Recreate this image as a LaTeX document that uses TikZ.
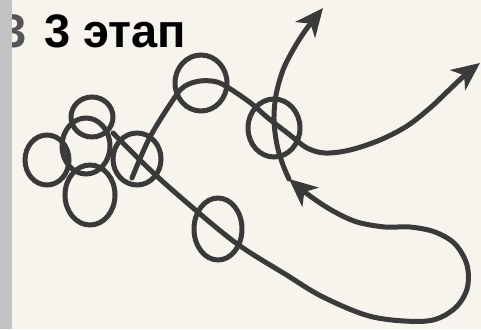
\documentclass[tikz,border=0pt]{standalone}
\usepackage{fontspec}
\setmainfont{Liberation Sans}
\usetikzlibrary{arrows.meta,shapes.geometric}
\definecolor{paper}{HTML}{F6F4EC}
\definecolor{strip}{HTML}{C3C3C3}
\definecolor{ink}{HTML}{3A3A3A}
\definecolor{ghostink}{HTML}{555555}
\begin{document}
\begin{tikzpicture}[x=1pt,y=-1pt,
  ring/.style={ellipse, draw=ink, line width=5pt, inner sep=0pt, outer sep=0pt},
  curve/.style={draw=ink, line width=5pt, line cap=round, line join=round},
  tipend/.style={-{Stealth[length=28pt,width=25pt,inset=8pt]}},
  titlefont/.style={font=\bfseries\fontsize{47}{47}\selectfont}]
\fill[paper] (0,0) rectangle (481,329);
\useasboundingbox (0,0) rectangle (481,329);
% ghost glyph partly under the strip
\node[anchor=base west, inner sep=0pt, text=ghostink, titlefont] (ghost) at (0,48) {3};
\fill[strip] (0,0) rectangle (12,329);
\node[anchor=base west, inner sep=0pt, titlefont] (title) at (44,48) {3 этап};
% rings
\node[ring, minimum width=42pt, minimum height=40pt] (k1) at (92,117) {};
\node[ring, minimum width=44pt, minimum height=50pt] (k2) at (47,160) {};
\node[ring, minimum width=48pt, minimum height=56pt] (k3) at (86,146) {};
\node[ring, minimum width=48pt, minimum height=52pt] (k4) at (137,159) {};
\node[ring, minimum width=50pt, minimum height=60pt] (k5) at (90,195) {};
\node[ring, minimum width=52pt, minimum height=56pt] (c2) at (201,83) {};
\node[ring, minimum width=52pt, minimum height=58pt] (c3) at (274,128) {};
\node[ring, minimum width=48pt, minimum height=62pt] (c4) at (218,229) {};
% path points
\coordinate (s1) at (113,133);
\coordinate (mid) at (289,179);
\coordinate (s2) at (132,178);
\coordinate (topend) at (323,8);
\coordinate (rightend) at (480,63);
% loop with mid arrow
\draw[curve, tipend] plot[smooth, tension=0.55] coordinates {(s1) (143,163) (170,188) (218,229) (246,250) (285,274) (323,297) (373,317) (427,321) (454,309) (467,289) (467,265) (455,244) (435,232) (410,227) (385,227) (357,222) (333,211) (310,196) (mid)};
% up to top arrow
\draw[curve, tipend] plot[smooth, tension=0.55] coordinates {(mid) (283,165) (277,145) (274,120) (276,95) (283,70) (293,50) (305,31) (topend)};
% line 2 to right arrow
\draw[curve, tipend] plot[smooth, tension=0.55] coordinates {(s2) (150,137) (175,97) (185,86) (200,81) (217,82) (232,90) (252,104) (268,118) (290,135) (307,148) (325,153) (350,150) (380,140) (407,126) (430,108) (448,91) (465,75) (rightend)};
\end{tikzpicture}
\end{document}
